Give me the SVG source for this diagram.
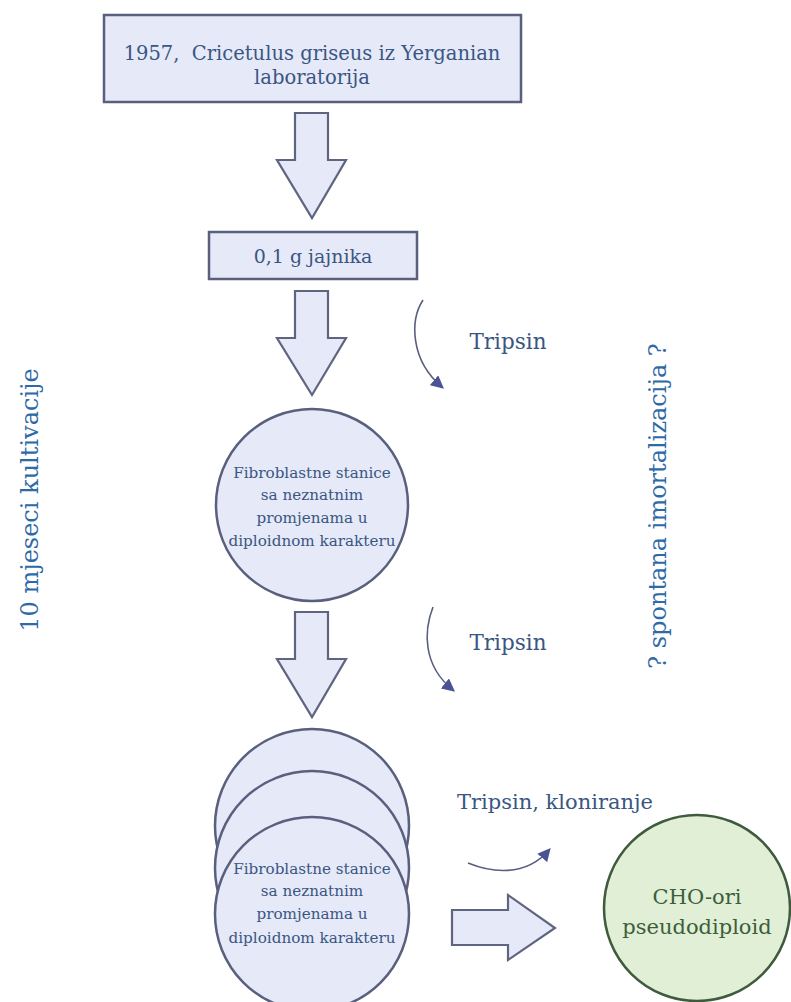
<svg xmlns="http://www.w3.org/2000/svg" width="791" height="1002" viewBox="0 0 791 1002">
<defs>
<style>
.box{fill:#e6e9f8;stroke:#5a5f7e;stroke-width:2.5}
.blk{fill:#e6e9f8;stroke:#5f6480;stroke-width:2.2}
.t{font-family:"DejaVu Serif","Liberation Serif",serif;fill:#3a5682;text-anchor:middle}
.side{font-family:"DejaVu Serif","Liberation Serif",serif;fill:#2e6aa6;text-anchor:middle;font-size:24px}
.cur{fill:none;stroke:#5a5f80;stroke-width:1.6}
.g{fill:#e0efd6;stroke:#3f5a3c;stroke-width:2.5}
.gt{font-family:"DejaVu Serif","Liberation Serif",serif;fill:#3d5e3b;text-anchor:middle;font-size:21px}
</style>
<marker id="ah" viewBox="0 0 10 10" refX="8" refY="5" markerWidth="13" markerHeight="13" markerUnits="userSpaceOnUse" orient="auto"><path d="M0,0 L10,5 L0,10 z" fill="#4a5494"/></marker>
</defs>
<rect width="791" height="1002" fill="#ffffff"/>

<g id="node-top">
<rect class="box" x="104" y="15" width="417" height="87"/>
<text class="t" x="312" y="60" font-size="19.5" xml:space="preserve">1957,  Cricetulus griseus iz Yerganian</text>
<text class="t" x="312" y="84" font-size="19.5">laboratorija</text>
</g>

<g id="node-jajnik">
<rect class="box" x="209" y="232" width="208" height="47"/>
<text class="t" x="313" y="263" font-size="19">0,1 g jajnika</text>
</g>

<g id="node-fibro1">
<circle class="box" cx="312" cy="505" r="96"/>
<text class="t" x="312" y="478" font-size="15.2">Fibroblastne stanice</text>
<text class="t" x="312" y="500" font-size="15.2">sa neznatnim</text>
<text class="t" x="312" y="523" font-size="15.2">promjenama u</text>
<text class="t" x="312" y="546" font-size="15.2">diploidnom karakteru</text>
</g>

<g id="node-fibro-stack">
<circle class="box" cx="312" cy="826" r="97"/>
<circle class="box" cx="312" cy="868" r="97"/>
<circle class="box" cx="312" cy="914" r="97"/>
<text class="t" x="312" y="874" font-size="15.2">Fibroblastne stanice</text>
<text class="t" x="312" y="896" font-size="15.2">sa neznatnim</text>
<text class="t" x="312" y="919" font-size="15.2">promjenama u</text>
<text class="t" x="312" y="943" font-size="15.2">diploidnom karakteru</text>
</g>

<g id="node-cho">
<circle class="g" cx="697" cy="908" r="93"/>
<text class="gt" x="697" y="904">CHO-ori</text>
<text class="gt" x="697" y="934">pseudodiploid</text>
</g>

<g id="labels">
<text class="side" transform="translate(38,500) rotate(-90)">10 mjeseci kultivacije</text>
<text class="side" transform="translate(666,506) rotate(-90)">? spontana imortalizacija ?</text>
<text class="t" x="508" y="349" font-size="21.5">Tripsin</text>
<text class="t" x="508" y="650" font-size="21.5">Tripsin</text>
<text class="t" x="555" y="809" font-size="21">Tripsin, kloniranje</text>
</g>

<g id="connectors">
<path class="blk" d="M295,113 L328,113 L328,160 L346,160 L312,218 L277,160 L295,160 Z"/>
<path class="blk" d="M295,291 L328,291 L328,338 L346,338 L312,395 L277,338 L295,338 Z"/>
<path class="blk" d="M295,612 L328,612 L328,659 L346,659 L312,717 L277,659 L295,659 Z"/>
<path class="blk" d="M452,910 L508,910 L508,895 L555,928 L508,960 L508,945 L452,945 Z"/>
<path class="cur" d="M423,300 C410,320 410,360 442,387" marker-end="url(#ah)"/>
<path class="cur" d="M433,607 C424,630 422,665 453,690" marker-end="url(#ah)"/>
<path class="cur" d="M468,863 C490,872 525,878 549,850" marker-end="url(#ah)"/>
</g>
</svg>
